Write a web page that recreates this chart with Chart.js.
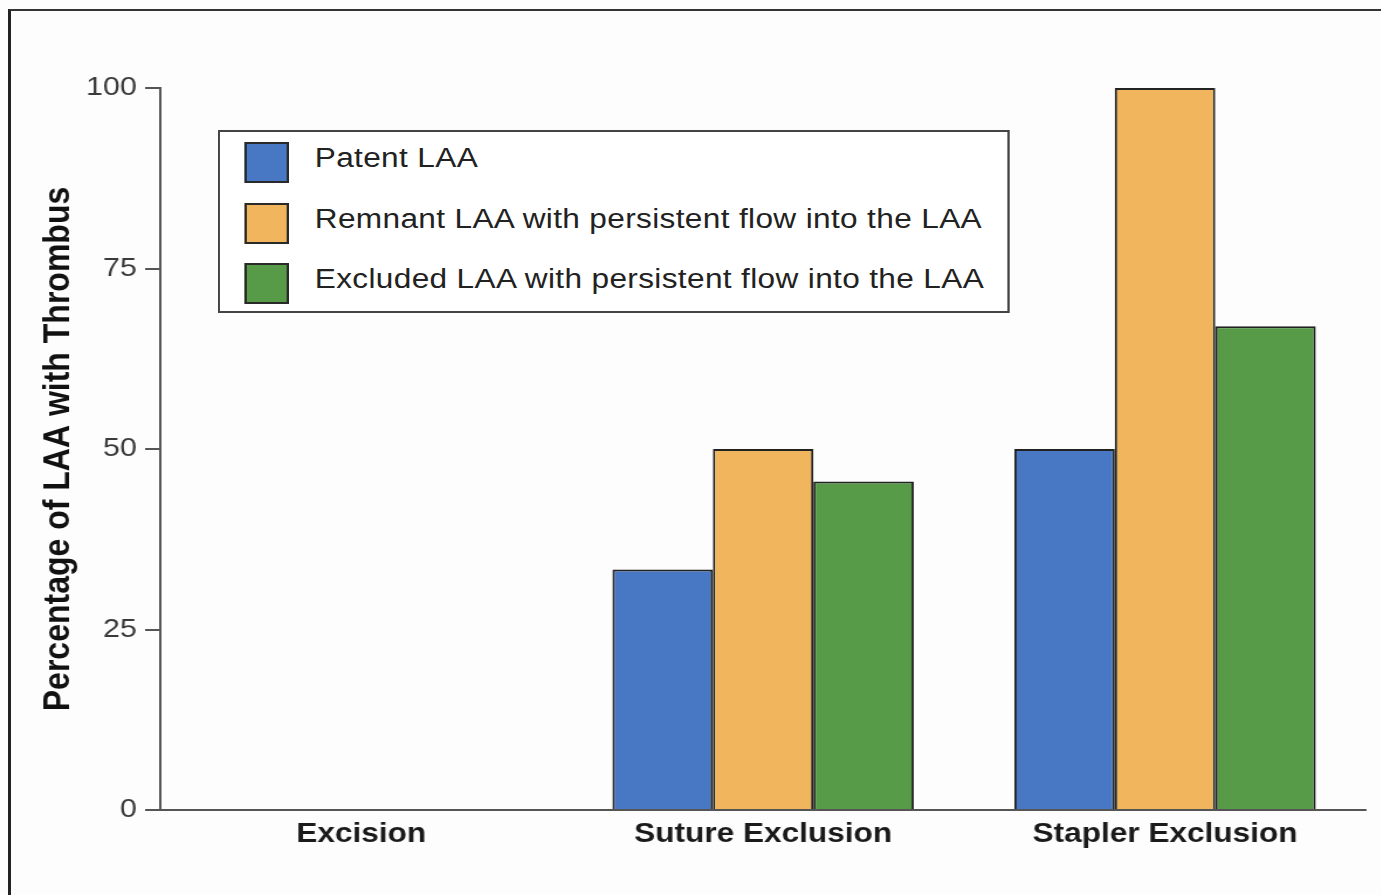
<!DOCTYPE html>
<html lang="en">

<head>
    <meta charset="UTF-8">
    <title>LAA Thrombus</title>
    <script src="https://cdn.jsdelivr.net/npm/chart.js"></script>
    <style>
        html, body { margin: 0; padding: 0; background: #fdfdfd; overflow: hidden; }
        /* the original picture is stretched sideways, so the whole chart is drawn narrower and scaled */
        #moldura { position: absolute; left: 8px; top: 9px; width: 2000px; height: 2000px;
            border-left: 3px solid #222; border-top: 2px solid #333; }
        #palco { position: absolute; left: 0; top: 0; width: 1180px; height: 895px;
            transform: scaleX(1.17); transform-origin: 0 0; }
        #legenda { position: absolute; left: 186px; top: 130px; width: 673px; height: 179px;
            border: 2px solid #444; background: #fff; font-family: "Liberation Sans", Arial, sans-serif;
            font-size: 27px; color: #222; letter-spacing: 0.3px; }
        .item { position: absolute; left: 21px; height: 40px; }
        .cor { position: absolute; left: 0; top: 0; width: 34px; height: 37px; border: 2px solid #2a2a2a; }
        .texto { position: absolute; left: 60px; top: -4px; white-space: nowrap; line-height: 40px; }
    </style>
</head>

<body>
    <div id="moldura"></div>
    <div id="palco">
        <canvas id="grafico"></canvas>
        <div id="legenda"></div>
    </div>

    <script>
        var categorias = ['Excision', 'Suture Exclusion', 'Stapler Exclusion']
        var series = ['Patent LAA', 'Remnant LAA with persistent flow into the LAA', 'Excluded LAA with persistent flow into the LAA']
        var patente = [0, 33.3, 50]
        var remanescente = [0, 50, 100]
        var excluido = [0, 45.5, 67]
        var ticksY = [0, 25, 50, 75, 100]
        var cores = ['#4878c3', '#f1b55d', '#579a48']

        var valores = [patente, remanescente, excluido]

        // legenda em html
        var legenda = document.getElementById('legenda')
        var topos = [10, 71, 131]
        for (var i = 0; i < series.length; i++) {
            legenda.innerHTML += `<div class="item" style="top:${topos[i]}px">
                <div class="cor" style="background:${cores[i]}"></div>
                <div class="texto">${series[i]}</div></div>`
        }

        var datasets = []
        for (var i = 0; i < series.length; i++) {
            datasets.push({
                label: series[i],
                data: valores[i],
                backgroundColor: cores[i],
                borderColor: '#222',
                borderWidth: 2,
                borderSkipped: 'start'
            })
        }

        Chart.defaults.font.family = '"Liberation Sans", Arial, sans-serif'

        const grafico = new Chart(document.getElementById('grafico'), {
            type: 'bar',
            data: { labels: categorias, datasets: datasets },
            options: {
                responsive: true,
                maintainAspectRatio: false,
                animation: false,
                layout: { padding: { left: 0, right: 12.5, top: 88, bottom: 0 } },
                plugins: {
                    legend: { display: false },
                    tooltip: { enabled: false }
                },
                datasets: {
                    bar: { categoryPercentage: 0.75, barPercentage: 1.0 }
                },
                scales: {
                    x: {
                        grid: { display: false, drawTicks: false },
                        border: { display: true, color: '#555', width: 2 },
                        ticks: {
                            color: '#1a1a1a',
                            padding: 8,
                            font: { size: 27, weight: 'bold' }
                        },
                        afterFit: function (s) { s.height = 85 }
                    },
                    y: {
                        min: 0,
                        max: 100,
                        afterBuildTicks: function (s) { s.ticks = ticksY.map(v => ({ value: v })) },
                        grid: { drawOnChartArea: false, drawTicks: true, tickLength: 13, color: '#555', lineWidth: 2 },
                        border: { display: true, color: '#555', width: 2 },
                        ticks: {
                            color: '#3a3a3a',
                            padding: 7,
                            font: { size: 26 }
                        },
                        title: {
                            display: true,
                            text: 'Percentage of LAA with Thrombus',
                            color: '#111',
                            padding: { top: 30.5, bottom: 0 },
                            font: { size: 32, weight: 'bold' }
                        },
                        afterFit: function (s) { s.width = 137 }
                    }
                }
            }
        })
    </script>
</body>

</html>
